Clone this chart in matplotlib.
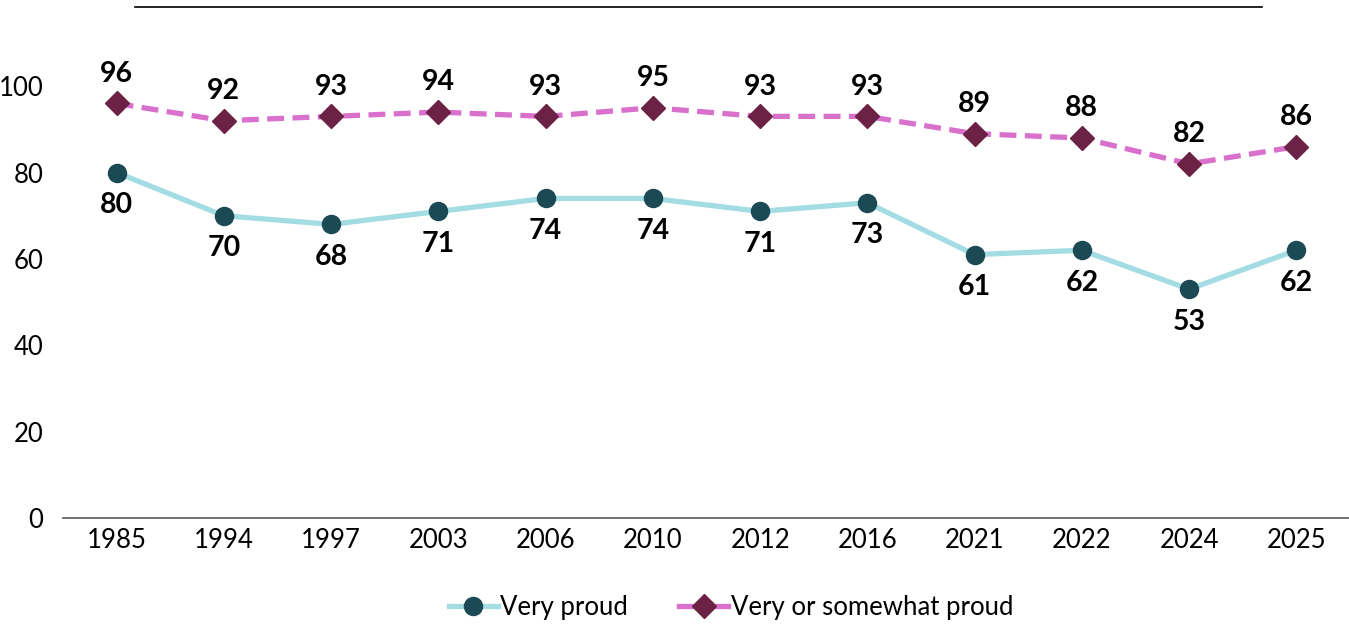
import matplotlib.pyplot as plt
from matplotlib.lines import Line2D
import numpy as np

plt.rcParams['font.family'] = ['Lato', 'DejaVu Sans']

years = ['1985', '1994', '1997', '2003', '2006', '2010', '2012', '2016',
         '2021', '2022', '2024', '2025']
very_proud = [80, 70, 68, 71, 74, 74, 71, 73, 61, 62, 53, 62]
very_or_somewhat = [96, 92, 93, 94, 93, 95, 93, 93, 89, 88, 82, 86]

fig = plt.figure(figsize=(13.49, 6.25), dpi=100)
ax = fig.add_axes([63 / 1349, 1 - 518 / 625, (1350 - 63) / 1349, 475 / 625])

x = np.arange(len(years))

ax.plot(x, very_proud, color='#A3DCE3', lw=3.8, marker='o', markersize=13,
        markerfacecolor='#1B4A55', markeredgecolor='#1B4A55', zorder=3)
ax.plot(x, very_or_somewhat, color='#D870CC', lw=3.8, ls=(0, (3.2, 1.6)),
        marker='D', markersize=12.5, markerfacecolor='#6B2244',
        markeredgecolor='#6B2244', zorder=3)

for i, v in enumerate(very_proud):
    ax.annotate(str(v), (i, v), xytext=(0, -23.5), textcoords='offset points',
                ha='center', va='center', fontsize=20.5, fontweight='bold')
for i, v in enumerate(very_or_somewhat):
    ax.annotate(str(v), (i, v), xytext=(0, 21.5), textcoords='offset points',
                ha='center', va='center', fontsize=20.5, fontweight='bold')

ax.set_xlim(-0.5, len(years) - 0.5)
ax.set_ylim(0, 110)
ax.set_yticks([0, 20, 40, 60, 80, 100])
ax.set_xticks(x)
ax.set_xticklabels(years)
ax.tick_params(axis='both', length=0, labelsize=18.5)
ax.tick_params(axis='x', pad=7)
ax.tick_params(axis='y', pad=14)
for s in ['top', 'right', 'left']:
    ax.spines[s].set_visible(False)
ax.spines['bottom'].set_color('#595959')
ax.spines['bottom'].set_linewidth(1.2)

# decorative rule at the top
fig.add_artist(Line2D([135 / 1349, 1262 / 1349], [1 - 7 / 625, 1 - 7 / 625],
                      color='black', lw=1.2))

handles = [
    Line2D([], [], color='#A3DCE3', lw=3.8, marker='o', markersize=13,
           markerfacecolor='#1B4A55', markeredgecolor='#1B4A55'),
    Line2D([], [], color='#D870CC', lw=3.8, marker='D', markersize=12.5,
           markerfacecolor='#6B2244', markeredgecolor='#6B2244'),
]
fig.legend(handles, ['Very proud', 'Very or somewhat proud'], loc='center',
           bbox_to_anchor=(731 / 1349, 1 - 607 / 625), ncol=2, frameon=False,
           fontsize=18.5, handlelength=1.9, handletextpad=0.1, columnspacing=2.0)

fig.savefig('out.png', dpi=100)
